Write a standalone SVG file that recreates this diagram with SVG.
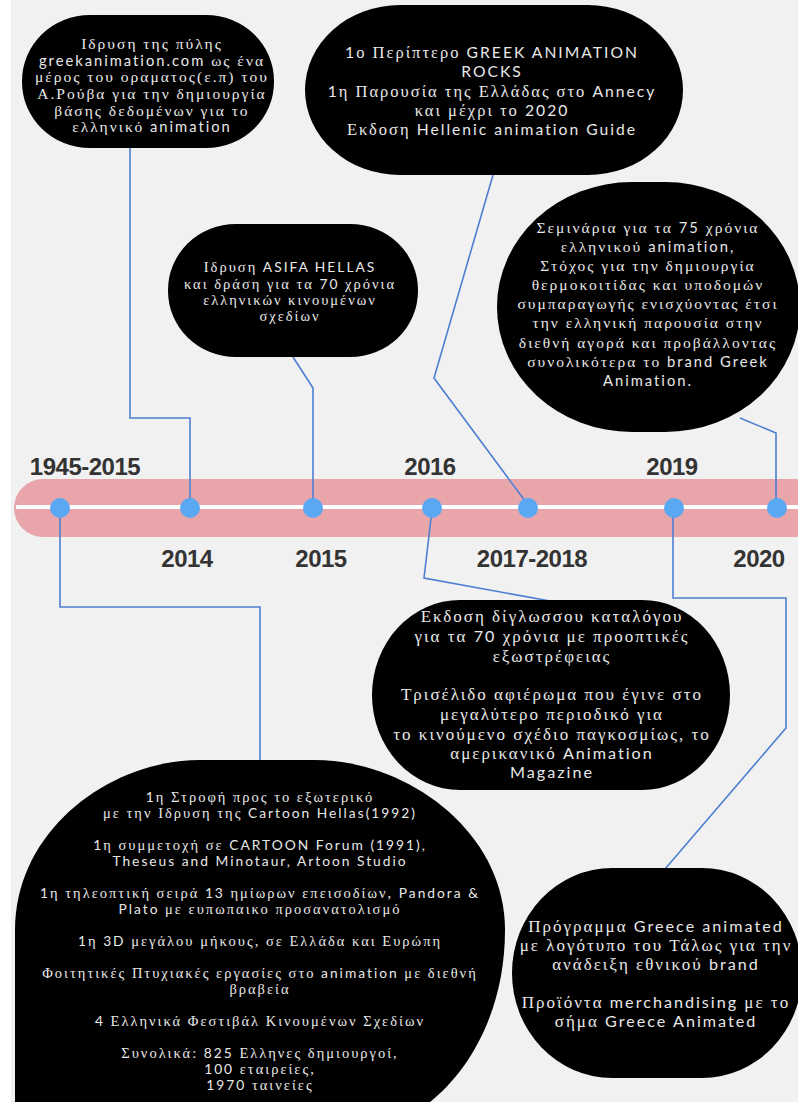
<svg xmlns="http://www.w3.org/2000/svg" width="798" height="1102" viewBox="0 0 798 1102">
<style>
.bub{fill:#000}
.t{font-family:"Liberation Serif","DejaVu Serif",serif;fill:#e8e8e8;text-anchor:middle;letter-spacing:2px}
.l{font-family:Lato,"Liberation Sans",sans-serif;font-size:0.95em}
.yr{font-family:"Liberation Sans",Arial,sans-serif;font-weight:bold;font-size:24px;fill:#333;text-anchor:middle;letter-spacing:-0.5px}
.con{fill:none;stroke:#4d7fd1;stroke-width:1.6}
.dot{fill:#5ba8f2}
</style>
<rect x="0" y="0" width="798" height="1102" fill="#fff"/>
<rect x="11" y="0" width="787" height="1102" fill="#f1f1f1"/>
<g id="timeline">
<rect x="14" y="479" width="820" height="58" rx="29" ry="29" fill="#e8a6aa"/>
<rect x="16" y="505" width="782" height="4" fill="#ffffff"/>
</g>
<g id="connectors">
<path class="con" d="M130,148 V418 H190 V505"/>
<path class="con" d="M293,357 L313,388 V505"/>
<path class="con" d="M493,175 L434,378 L528,505"/>
<path class="con" d="M740,418 L776,433 V505"/>
<path class="con" d="M60,510 V607 H260 V762"/>
<path class="con" d="M432,510 L424,578 L550,601"/>
<path class="con" d="M673,510 V598 H786 V728 L665,869"/>
</g>
<g id="dots">
<circle class="dot" cx="60" cy="508" r="10"/>
<circle class="dot" cx="190" cy="508" r="10"/>
<circle class="dot" cx="313" cy="508" r="10"/>
<circle class="dot" cx="432" cy="508" r="10"/>
<circle class="dot" cx="528" cy="508" r="10"/>
<circle class="dot" cx="674" cy="508" r="10"/>
<circle class="dot" cx="777" cy="508" r="10"/>
</g>
<g id="labels">
<text class="yr" x="85" y="475">1945-2015</text>
<text class="yr" x="430" y="475">2016</text>
<text class="yr" x="672" y="475">2019</text>
<text class="yr" x="187" y="567">2014</text>
<text class="yr" x="321" y="567">2015</text>
<text class="yr" x="532" y="567">2017-2018</text>
<text class="yr" x="759" y="567">2020</text>
</g>
<g id="node-2014">
<rect class="bub" x="22" y="15" width="252" height="133" rx="68" ry="66"/>
<text class="t" font-size="15.5" letter-spacing="2.4"><tspan x="152" y="49">Ιδρυση της πύλης</tspan><tspan x="152" y="66"><tspan class="l">greekanimation.com</tspan> ως ένα</tspan><tspan x="152" y="82">μέρος του οραματος(ε.π) του</tspan><tspan x="152" y="99">Α.Ρούβα για την δημιουργία</tspan><tspan x="152" y="116">βάσης δεδομένων για το</tspan><tspan x="152" y="132">ελληνικό <tspan class="l">animation</tspan></tspan></text>
</g>
<g id="node-2015">
<rect class="bub" x="168" y="224" width="250" height="133" rx="68" ry="66"/>
<text class="t" font-size="14.5" letter-spacing="2.1"><tspan x="290" y="272">Ιδρυση <tspan class="l">ASIFA HELLAS</tspan></tspan><tspan x="290" y="289">και δράση για τα <tspan class="l">70</tspan> χρόνια</tspan><tspan x="290" y="305">ελληνικών κινουμένων</tspan><tspan x="290" y="321">σχεδίων</tspan></text>
</g>
<g id="node-2017-2018">
<rect class="bub" x="305" y="5" width="378" height="170" rx="95" ry="85"/>
<text class="t" font-size="16.5" letter-spacing="2.2"><tspan x="492" y="58"><tspan class="l">1</tspan>ο Περίπτερο <tspan class="l">GREEK ANIMATION</tspan></tspan><tspan x="492" y="77"><tspan class="l">ROCKS</tspan></tspan><tspan x="492" y="97"><tspan class="l">1</tspan>η Παρουσία της Ελλάδας στο <tspan class="l">Annecy</tspan></tspan><tspan x="492" y="116">και μέχρι το <tspan class="l">2020</tspan></tspan><tspan x="492" y="135">Εκδοση <tspan class="l">Hellenic animation Guide</tspan></tspan></text>
</g>
<g id="node-2020">
<rect class="bub" x="497" y="182" width="303" height="250" rx="135" ry="125"/>
<text class="t" font-size="15.5" letter-spacing="1.9"><tspan x="648" y="233">Σεμινάρια για τα <tspan class="l">75</tspan> χρόνια</tspan><tspan x="648" y="252">ελληνικού <tspan class="l">animation,</tspan></tspan><tspan x="648" y="271">Στόχος για την δημιουργία</tspan><tspan x="648" y="290">θερμοκοιτίδας και υποδομών</tspan><tspan x="648" y="309">συμπαραγωγής ενισχύοντας έτσι</tspan><tspan x="648" y="328">την ελληνική παρουσία στην</tspan><tspan x="648" y="348">διεθνή αγορά και προβάλλοντας</tspan><tspan x="648" y="367">συνολικότερα το <tspan class="l">brand Greek</tspan></tspan><tspan x="648" y="386"><tspan class="l">Animation.</tspan></tspan></text>
</g>
<g id="node-2016">
<rect class="bub" x="372" y="600" width="358" height="190" rx="88" ry="95"/>
<text class="t" font-size="17" letter-spacing="2.5"><tspan x="552" y="622">Εκδοση δίγλωσσου καταλόγου</tspan><tspan x="552" y="642">για τα <tspan class="l">70</tspan> χρόνια με προοπτικές</tspan><tspan x="552" y="662">εξωστρέφειας</tspan><tspan x="552" y="700">Τρισέλιδο αφιέρωμα που έγινε στο</tspan><tspan x="552" y="720">μεγαλύτερο περιοδικό για</tspan><tspan x="552" y="740">το κινούμενο σχέδιο παγκοσμίως, το</tspan><tspan x="552" y="759">αμερικανικό <tspan class="l">Animation</tspan></tspan><tspan x="552" y="778"><tspan class="l">Magazine</tspan></tspan></text>
</g>
<g id="node-1945-2015">
<path class="bub" d="M15,1102 L15,930 C15,830 110,760 200,760 L315,760 C405,760 505,830 505,930 C505,1010 470,1070 430,1102 Z"/>
<text class="t" font-size="14.5" letter-spacing="2.2"><tspan x="260" y="802"><tspan class="l">1</tspan>η Στροφή προς το εξωτερικό</tspan><tspan x="260" y="818">με την Ιδρυση της <tspan class="l">Cartoon Hellas(1992)</tspan></tspan><tspan x="260" y="850"><tspan class="l">1</tspan>η συμμετοχή σε <tspan class="l">CARTOON Forum (1991),</tspan></tspan><tspan x="260" y="866"><tspan class="l">Theseus and Minotaur, Artoon Studio</tspan></tspan><tspan x="260" y="898"><tspan class="l">1</tspan>η τηλεοπτική σειρά <tspan class="l">13</tspan> ημίωρων επεισοδίων, <tspan class="l">Pandora &amp;</tspan></tspan><tspan x="260" y="914"><tspan class="l">Plato</tspan> με ευπωπαικο προσανατολισμό</tspan><tspan x="260" y="946"><tspan class="l">1</tspan>η <tspan class="l">3D</tspan> μεγάλου μήκους, σε Ελλάδα και Ευρώπη</tspan><tspan x="260" y="978">Φοιτητικές Πτυχιακές εργασίες στο <tspan class="l">animation</tspan> με διεθνή</tspan><tspan x="260" y="994">βραβεία</tspan><tspan x="260" y="1026"><tspan class="l">4</tspan> Ελληνικά Φεστιβάλ Κινουμένων Σχεδίων</tspan><tspan x="260" y="1058">Συνολικά: <tspan class="l">825</tspan> Ελληνες δημιουργοί,</tspan><tspan x="260" y="1074"><tspan class="l">100</tspan> εταιρείες,</tspan><tspan x="260" y="1090"><tspan class="l">1970</tspan> ταινείες</tspan></text>
</g>
<g id="node-2019">
<rect class="bub" x="512" y="868" width="290" height="210" rx="100" ry="105"/>
<text class="t" font-size="17" letter-spacing="2.5"><tspan x="656" y="932">Πρόγραμμα <tspan class="l">Greece animated</tspan></tspan><tspan x="656" y="951">με λογότυπο του Τάλως για την</tspan><tspan x="656" y="970">ανάδειξη εθνικού <tspan class="l">brand</tspan></tspan><tspan x="656" y="1008">Προϊόντα <tspan class="l">merchandising</tspan> με το</tspan><tspan x="656" y="1027">σήμα <tspan class="l">Greece Animated</tspan></tspan></text>
</g>
</svg>
